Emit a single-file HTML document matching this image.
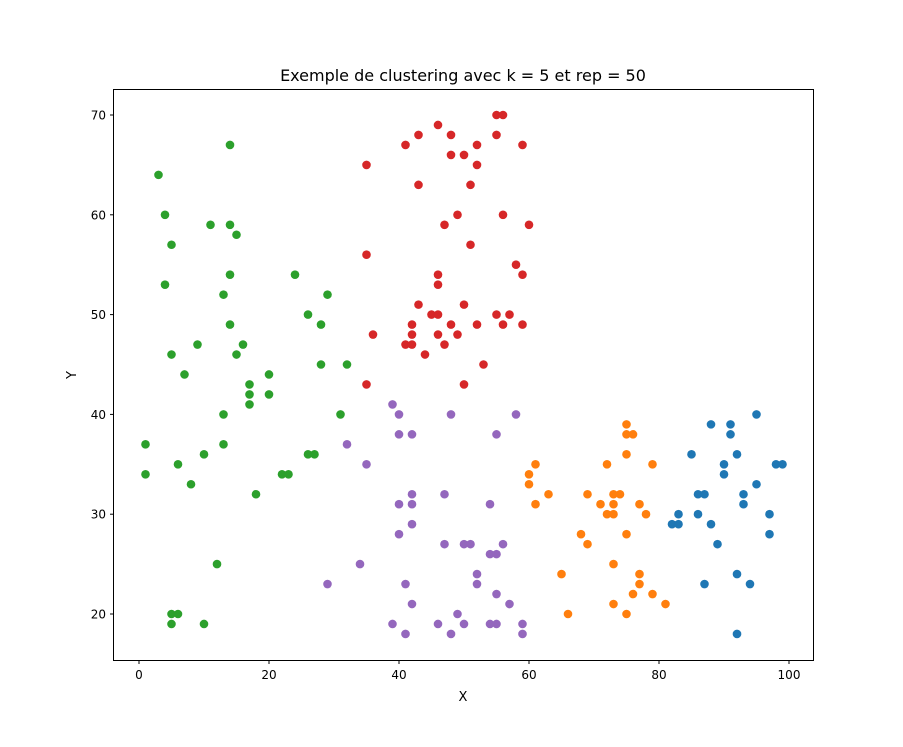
<!DOCTYPE html>
<html><head><meta charset="utf-8"><style>
body{margin:0;background:#fff}
svg text{font-family:"DejaVu Sans","Liberation Sans",sans-serif;fill:#000}
</style></head><body>
<svg id="chart" width="903" height="742" xmlns="http://www.w3.org/2000/svg">
<rect width="903" height="742" fill="#fff"/>
<text x="463" y="81" font-size="16" text-anchor="middle">Exemple de clustering avec k = 5 et rep = 50</text>
<text x="463" y="701" font-size="13" text-anchor="middle">X</text>
<text x="76" y="375" font-size="13" text-anchor="middle" transform="rotate(-90 76 375)">Y</text>
<g id="ticks"></g>
<g id="points"></g>
<rect x="113.5" y="89.5" width="700" height="571" fill="none" stroke="#000" stroke-width="1"/>
</svg>
<script>
const xTicks=[0,20,40,60,80,100];
const yTicks=[20,30,40,50,60,70];
const colors=["#1f77b4","#ff7f0e","#2ca02c","#d62728","#9467bd"];
const clusterNames=["blue","orange","green","red","purple"];
const blueX=[88,91,91,95,85,92,90,98,99,90,95,86,87,93,93,83,86,97,82,83,88,97,89,87,94,92,92];
const blueY=[39,39,38,40,36,36,35,35,35,34,33,32,32,32,31,30,30,30,29,29,29,28,27,23,23,24,18];
const orangeX=[75,75,76,75,61,72,79,60,60,63,69,73,74,61,71,73,77,72,73,78,68,75,69,73,65,77,77,76,79,73,81,66,75];
const orangeY=[39,38,38,36,35,35,35,34,33,32,32,32,32,31,31,31,31,30,30,30,28,28,27,25,24,24,23,22,22,21,21,20,20];
const greenX=[3,4,5,4,5,7,1,1,6,8,9,10,11,14,14,15,14,13,14,15,16,17,17,17,13,13,20,20,18,12,5,6,5,10,24,26,29,28,28,32,31,26,27,22,23];
const greenY=[64,60,57,53,46,44,37,34,35,33,47,36,59,67,59,58,54,52,49,46,47,43,42,41,40,37,44,42,32,25,20,20,19,19,54,50,52,49,45,45,40,36,36,34,34];
const redX=[43,41,46,48,48,50,52,52,55,56,55,59,35,43,51,49,47,56,60,51,35,58,59,46,46,43,50,45,46,55,57,42,48,52,56,59,36,42,46,49,41,42,47,44,53,35,50];
const redY=[68,67,69,68,66,66,67,65,70,70,68,67,65,63,63,60,59,60,59,57,56,55,54,54,53,51,51,50,50,50,50,49,49,49,49,49,48,48,48,48,47,47,47,46,45,43,43];
const purpleX=[39,40,48,58,40,42,55,32,35,42,47,40,42,54,42,40,47,50,51,56,54,55,34,52,29,41,52,55,42,57,49,39,46,50,54,55,59,41,48,59];
const purpleY=[41,40,40,40,38,38,38,37,35,32,32,31,31,31,29,28,27,27,27,27,26,26,25,24,23,23,23,22,21,21,20,19,19,19,19,19,19,18,18,18];
const seriesX=[blueX,orangeX,greenX,redX,purpleX];
const seriesY=[blueY,orangeY,greenY,redY,purpleY];
const sx=v=>139+v*6.5;
const sy=v=>614-(v-20)*9.98;
const NS="http://www.w3.org/2000/svg";
const tg=document.getElementById('ticks');
xTicks.forEach(t=>{
  const x=sx(t);
  const l=document.createElementNS(NS,'line');
  
  
  l.setAttribute('x1',x);l.setAttribute('x2',x);l.setAttribute('y1',660.5);l.setAttribute('y2',664);l.setAttribute('stroke','#000');
  tg.appendChild(l);
  const tx=document.createElementNS(NS,'text');
  
  
  tx.setAttribute('x',x);tx.setAttribute('y',679);tx.setAttribute('font-size','12');tx.setAttribute('text-anchor','middle');
  tx.textContent=t;tg.appendChild(tx);
});
yTicks.forEach(t=>{
  const y=sy(t);
  const l=document.createElementNS(NS,'line');
  
  
  l.setAttribute('x1',110);l.setAttribute('x2',113.5);l.setAttribute('y1',y);l.setAttribute('y2',y);l.setAttribute('stroke','#000');
  tg.appendChild(l);
  const tx=document.createElementNS(NS,'text');
  
  
  tx.setAttribute('x',106);tx.setAttribute('y',y+4.5);tx.setAttribute('font-size','12');tx.setAttribute('text-anchor','end');
  tx.textContent=t;tg.appendChild(tx);
});
const pg=document.getElementById('points');
seriesX.forEach((xs,i)=>{
  xs.forEach((xv,j)=>{
    const c=document.createElementNS(NS,'circle');
    
    
    c.setAttribute('cx',sx(xv));c.setAttribute('cy',sy(seriesY[i][j]));c.setAttribute('r',4.3);c.setAttribute('fill',colors[i]);
    pg.appendChild(c);
  });
});
</script>
</body></html>
